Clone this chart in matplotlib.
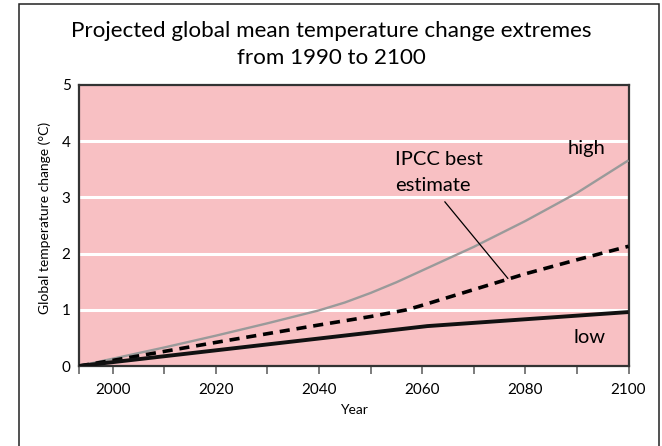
import matplotlib
matplotlib.use("Agg")
import matplotlib.pyplot as plt
from matplotlib.patches import Rectangle

plt.rcParams['font.family'] = ['Lato', 'DejaVu Sans']

# ---- data ----
x_start = 1993.45
high_years = [1993.45, 2000, 2010, 2020, 2030, 2040, 2045, 2050, 2055, 2060, 2070, 2080, 2090, 2100]
high_vals = [0, 0.13, 0.33, 0.54, 0.76, 0.99, 1.13, 1.3, 1.49, 1.7, 2.12, 2.58, 3.08, 3.66]
best_years = [1993.45, 2000, 2020, 2040, 2050, 2057, 2060, 2070, 2080, 2090, 2100]
best_vals = [0, 0.1, 0.42, 0.73, 0.88, 1.0, 1.08, 1.36, 1.64, 1.89, 2.13]
low_years = [1993.45, 2061, 2100]
low_vals = [0, 0.71, 0.96]
x_major = [2000, 2020, 2040, 2060, 2080, 2100]
x_minor = [1993.45, 2010, 2030, 2050, 2070, 2090]
y_ticks = [0, 1, 2, 3, 4, 5]
grid_vals = [1, 2, 3, 4]

W, H = 662, 446
fig = plt.figure(figsize=(W / 100, H / 100), dpi=100)
fig.patch.set_facecolor('white')

# outer frame
fig.patches.append(Rectangle((19 / W, -0.05), (659 - 19) / W, (H - 4) / H + 0.05,
                             transform=fig.transFigure, fill=False,
                             edgecolor='#222222', linewidth=1.1))

ax = fig.add_axes([79 / W, (H - 366) / H, (628.5 - 79) / W, (366 - 85) / H])
ax.set_facecolor('#F8C0C3')
ax.set_xlim(x_start, 2100)
ax.set_ylim(0, 5)

for g in grid_vals:
    ax.axhline(g, color='white', linewidth=2.2, zorder=1)

ax.plot(high_years, high_vals, color='#9a9a9a', linewidth=1.7, zorder=3,
        solid_capstyle='butt', solid_joinstyle='round')
ax.plot(best_years, best_vals, color='black', linewidth=2.6, zorder=4,
        dashes=(2.8, 1.9), dash_capstyle='butt')
ax.plot(low_years, low_vals, color='#111111', linewidth=2.8, zorder=5,
        solid_capstyle='butt')

for s in ax.spines.values():
    s.set_color('#333333')
    s.set_linewidth(1.6)

ax.set_xticks(x_major)
ax.set_xticks(x_minor, minor=True)
ax.set_xticklabels([str(v) for v in x_major], fontsize=11)
ax.tick_params(axis='x', which='both', direction='out', length=6, width=1.2,
               color='#666666', pad=6)
ax.set_yticks(y_ticks)
ax.set_yticklabels([str(v) for v in y_ticks], fontsize=11)
ax.tick_params(axis='y', length=0, pad=6)

ax.set_xlabel('Year', fontsize=10, labelpad=5)
fig.text(45 / W, 1 - 218 / H, 'Global temperature change (°C)', rotation=90,
         ha='center', va='center', fontsize=10)

# title
fig.text(331 / W, 1 - 37.3 / H, 'Projected global mean temperature change extremes',
         ha='center', va='baseline', fontsize=16.1)
fig.text(331 / W, 1 - 64 / H, 'from 1990 to 2100',
         ha='center', va='baseline', fontsize=16.1)

# annotations
ax.text(2054.7, 3.58, 'IPCC best', fontsize=14.5, va='baseline', ha='left')
ax.text(2054.7, 3.11, 'estimate', fontsize=14.5, va='baseline', ha='left')
ax.plot([2064.4, 2076.6], [2.92, 1.56], color='black', linewidth=0.9, zorder=6)
ax.text(2088.2, 3.78, 'high', fontsize=14.5, va='baseline', ha='left')
ax.text(2089.4, 0.41, 'low', fontsize=14.5, va='baseline', ha='left')

fig.savefig('out.png', dpi=100)
